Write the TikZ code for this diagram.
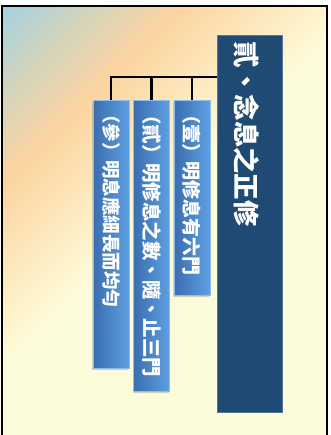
\documentclass[tikz,border=0pt]{standalone}
\usepackage{fontspec}
\newfontfamily\cjk{Noto Sans CJK TC}
\usepackage{xcolor}
\usetikzlibrary{positioning,calc,shadows}

\definecolor{bgblue}{RGB}{166,211,222}
\definecolor{bgpeach}{RGB}{252,212,160}
\definecolor{bgcream}{RGB}{253,252,218}
\definecolor{titleblue}{RGB}{31,74,115}
\definecolor{titleedge}{RGB}{84,118,156}
\definecolor{itemdark}{RGB}{58,110,176}
\definecolor{itemlight}{RGB}{94,160,226}

\pgfdeclarehorizontalshading{bgfade}{100bp}{color(0bp)=(bgblue); color(15bp)=(bgblue); color(22bp)=(bgpeach!55!bgblue); color(29bp)=(bgpeach); color(44bp)=(bgcream); color(100bp)=(bgcream)}

\tikzset{
  titlebox/.style={draw=titleedge, fill=titleblue, minimum width=65bp, minimum height=377bp, inner sep=0pt},
  itembox/.style={left color=itemdark, right color=itemlight, draw=itemlight!70!white, minimum width=36bp, inner sep=0pt,
    drop shadow={shadow xshift=-1bp, shadow yshift=-1.5bp, opacity=0.35}},
  vtext/.style={rotate=-90, anchor=west, text=white, inner sep=0pt},
  branch/.style={line width=2.5bp, black}
}

\begin{document}
\begin{tikzpicture}[x=1bp, y=1bp]
    \useasboundingbox (0,0) rectangle (330,435);

    % background
    \begin{scope}
        \clip (2,-5) rectangle (327,429);
        \shade[shading=bgfade, shading angle=-45] (2,-6) rectangle (437,429);
    \end{scope}
    \draw[line width=1.6bp] (2,-5) rectangle (327,429);

    % title column
    \node[titlebox] (main) at (249.5,211.5) {};
    \node[vtext, font=\cjk\bfseries\fontsize{26.5}{26.5}\selectfont] (title) at ([xshift=-3bp, yshift=-7bp]main.north) {貳、念息之正修};

    % item columns
    \node[itembox, minimum height=195bp, anchor=north] (i1) at (192,335) {};
    \node[itembox, minimum height=291bp, anchor=north east] (i2) at ([xshift=-4bp]i1.north west) {};
    \node[itembox, minimum height=268bp, anchor=north east] (i3) at ([xshift=-4bp]i2.north west) {};

    \node[vtext, font=\cjk\bfseries\fontsize{19}{19}\selectfont] (t1) at ([yshift=-5bp]i1.north) {（壹）明修息有六門};
    \node[vtext, font=\cjk\bfseries\fontsize{19.5}{19.5}\selectfont] (t2) at ([yshift=-5bp]i2.north) {（貳）明修息之數、隨、止三門};
    \node[vtext, font=\cjk\bfseries\fontsize{18.5}{18.5}\selectfont] (t3) at ([yshift=-5bp]i3.north) {（參）明息應細長而均勻};

    % connectors
    \coordinate (junc) at ([yshift=-42bp]main.north west);
    \draw[branch] (junc) -| (i3.north);
    \draw[branch] (i2.north) -- (i2.north |- junc);
    \draw[branch] (i1.north) -- (i1.north |- junc);
\end{tikzpicture}
\end{document}
